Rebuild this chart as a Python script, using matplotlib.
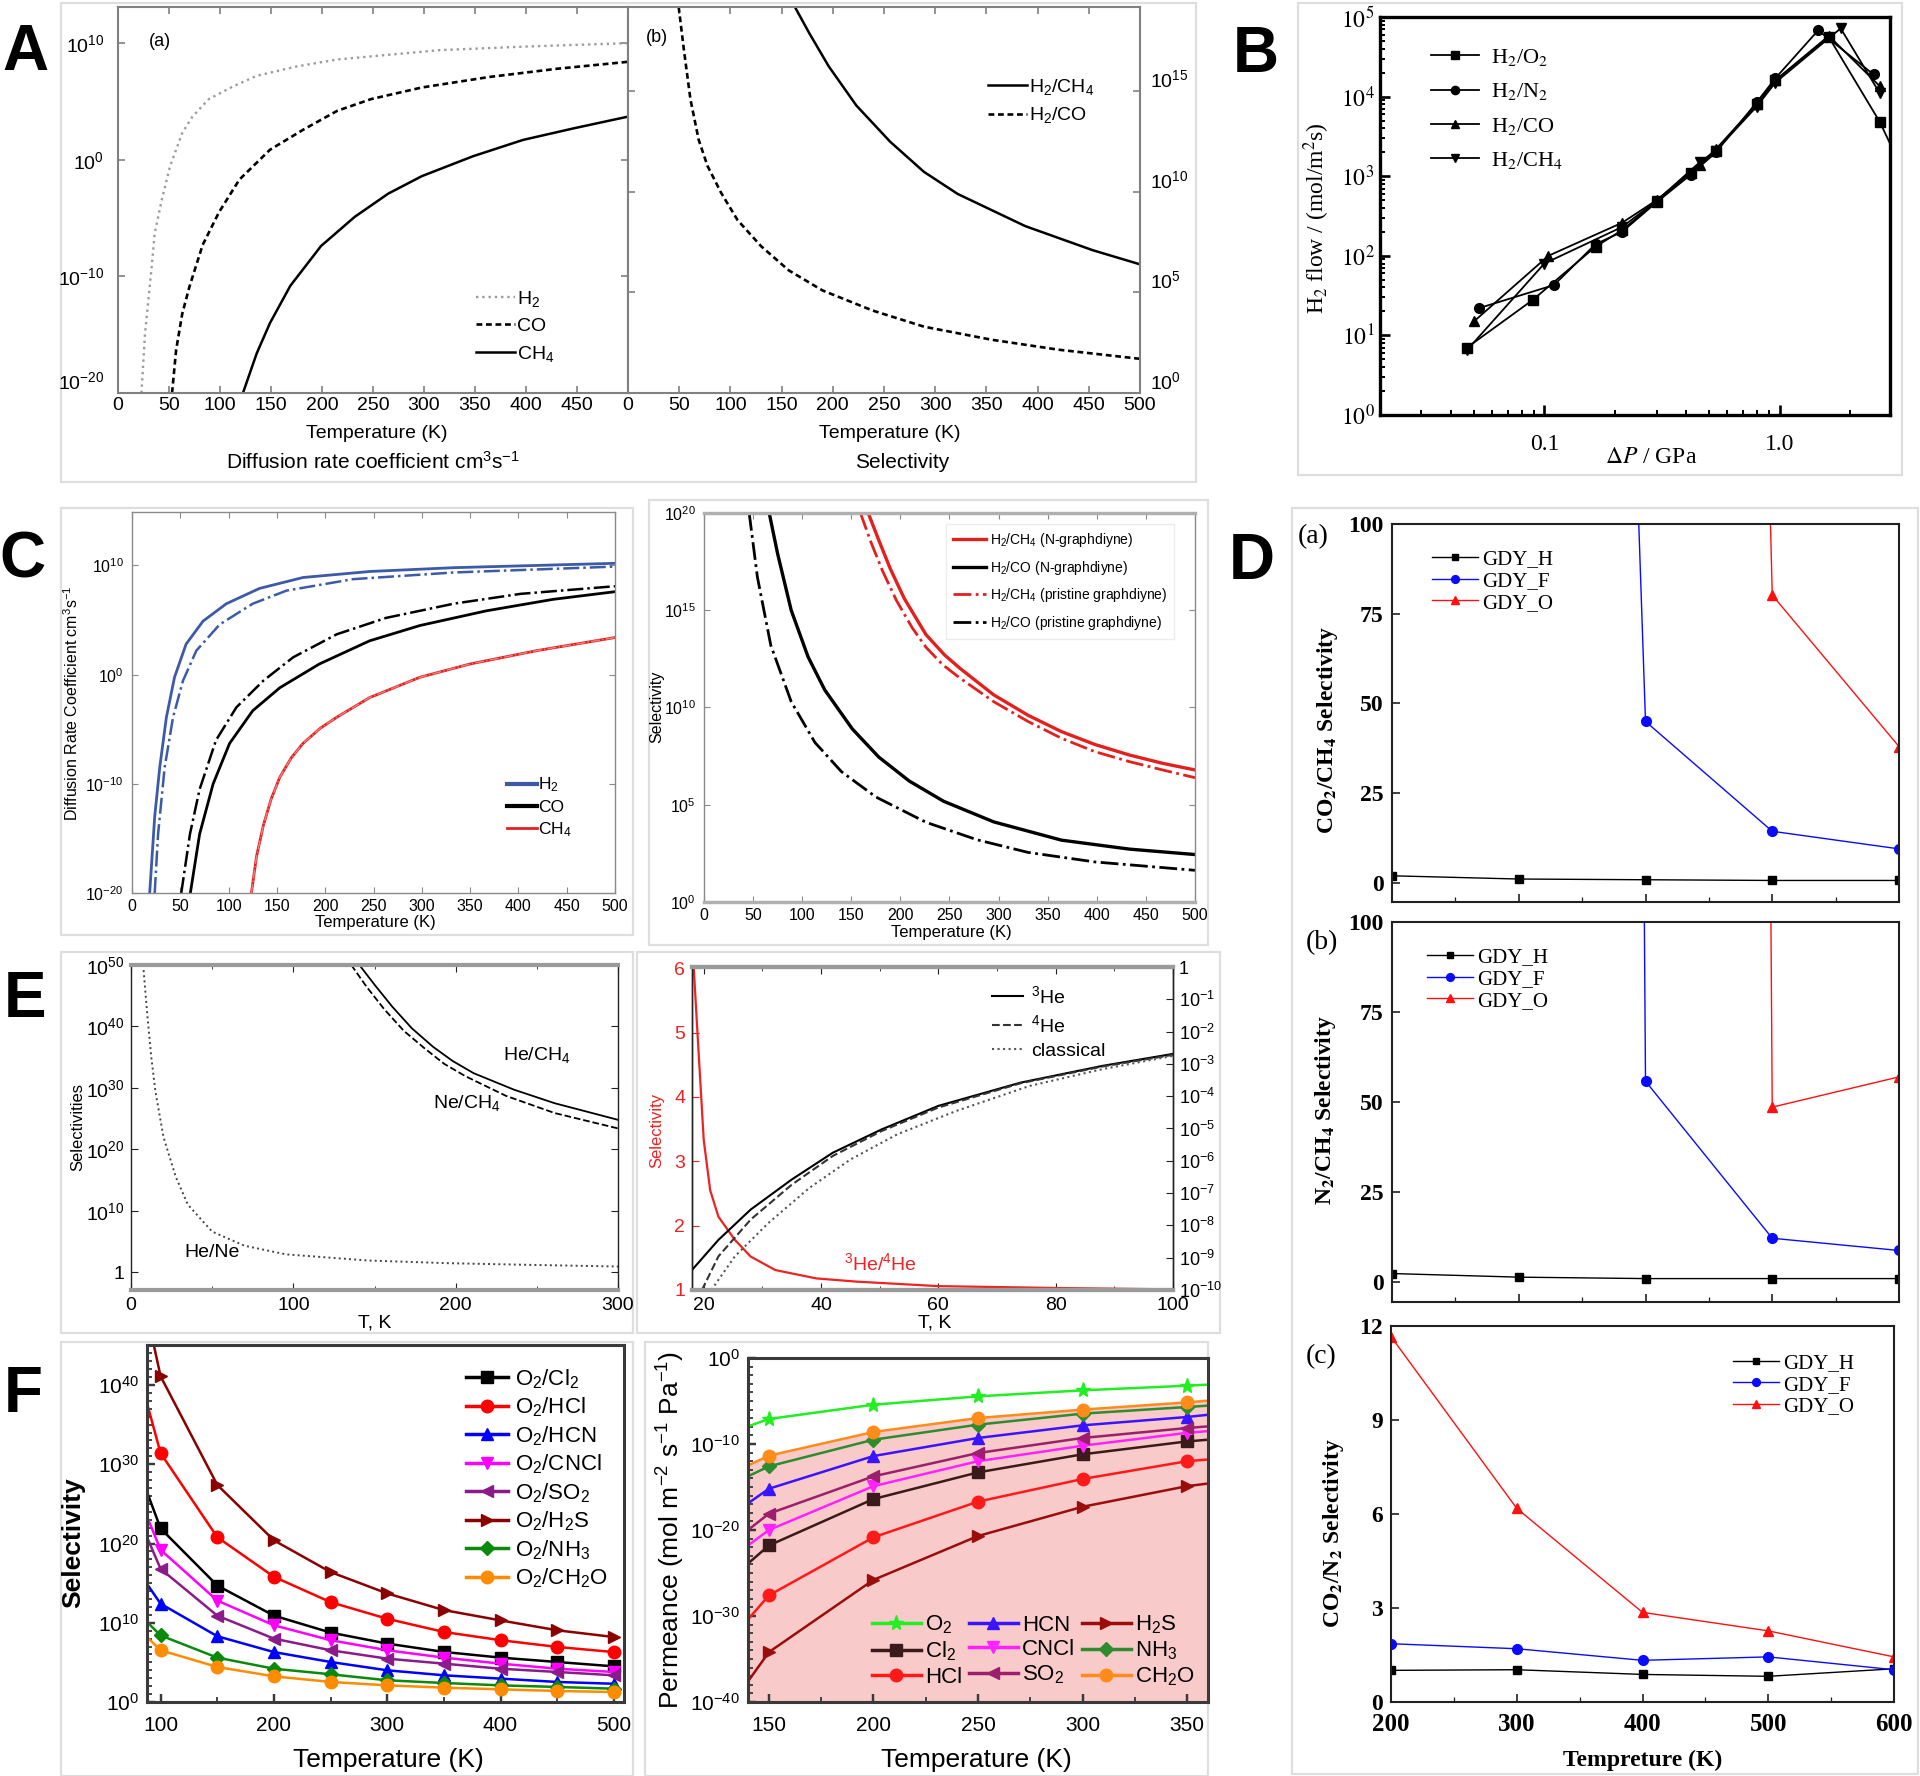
import numpy as np
import matplotlib
matplotlib.use('Agg')
import matplotlib.pyplot as plt
from matplotlib.patches import Rectangle
from matplotlib.lines import Line2D
from matplotlib.ticker import FixedLocator, NullFormatter, NullLocator

plt.rcParams['font.family'] = ['Liberation Sans', 'DejaVu Sans']
plt.rcParams['mathtext.fontset'] = 'custom'
plt.rcParams['mathtext.rm'] = 'Liberation Sans'
plt.rcParams['mathtext.it'] = 'Liberation Sans:italic'
plt.rcParams['mathtext.bf'] = 'Liberation Sans:bold'

SERIF = 'Liberation Serif'
nan = np.nan

# ---------------- DATA ----------------
# Panel A(a): diffusion rate coefficient, log10 values vs temperature (K)
A_T_H2 = [23, 26.5, 33, 36, 43, 51, 63, 73, 89, 113, 136, 175, 215, 265, 315, 397, 500]
A_LOG_H2 = [-20, -14.9, -9.2, -6.3, -3.4, -0.57, 2.3, 3.7, 5.2, 6.3, 7.2, 8.0, 8.6, 9.0, 9.4, 9.7, 10.0]
A_T_CO = [53, 57, 63, 70, 83, 99, 119, 149, 182, 215, 248, 298, 364, 430, 500]
A_LOG_CO = [-20, -16.3, -13.2, -10.9, -7.3, -4.5, -1.7, 0.86, 2.6, 4.2, 5.2, 6.2, 7.1, 7.8, 8.4]
A_T_CH4 = [122.5, 136, 149, 169, 199, 232, 265, 298, 348, 397, 447, 500]
A_LOG_CH4 = [-20, -16.6, -14.0, -10.8, -7.4, -4.9, -2.9, -1.4, 0.3, 1.7, 2.7, 3.7]
# Panel A(b): selectivity (log10)
AB_T_CH4 = [163, 177, 196, 223, 256, 289, 322, 355, 388, 421, 454, 500]
AB_LOG_CH4 = [19.2, 17.9, 16.25, 14.3, 12.5, 11.0, 9.9, 9.1, 8.3, 7.7, 7.1, 6.4]
AB_T_CO = [49.5, 54.5, 61, 69, 77.6, 91, 107, 130, 157, 190, 239, 289, 355, 421, 500]
AB_LOG_CO = [19.2, 17.1, 14.6, 12.6, 11.3, 9.95, 8.6, 7.3, 6.1, 5.1, 4.1, 3.3, 2.65, 2.15, 1.7]

# Panel B: H2 flow vs pressure difference
B_P_O2 = [0.0468, 0.0894, 0.165, 0.214, 0.30, 0.42, 0.537, 0.80, 0.96, 1.62, 2.67, 3.2]
B_F_O2 = [7, 28, 130, 210, 480, 1100, 2100, 8000, 16000, 56000, 4800, 1550]
B_P_N2 = [0.0527, 0.110, 0.165, 0.214, 0.30, 0.42, 0.537, 0.80, 0.96, 1.46, 2.51]
B_F_N2 = [22, 43, 140, 200, 470, 1050, 2000, 8500, 17000, 68000, 19000]
B_P_CO = [0.0502, 0.104, 0.214, 0.30, 0.458, 0.537, 0.80, 0.96, 1.62, 2.67]
B_F_CO = [15, 100, 260, 500, 1400, 2200, 8000, 16000, 58000, 13500]
B_P_CH4 = [0.0468, 0.100, 0.214, 0.30, 0.458, 0.537, 0.80, 0.96, 1.82, 2.67]
B_F_CH4 = [6.5, 80, 230, 490, 1500, 2100, 7500, 15000, 72000, 11000]

# Panel C left: diffusion rate coefficient (log10), N-graphdiyne (N) / pristine (P)
C_T_H2_N = [18.3, 23.5, 28.7, 35.6, 44, 56, 73.5, 97.7, 132, 177, 246, 333, 500]
C_LOG_H2_N = [-20, -13, -8.5, -3.9, -0.24, 2.8, 4.9, 6.5, 7.9, 8.9, 9.45, 9.8, 10.2]
C_T_H2_P = [23.5, 27, 33.8, 42.5, 52.8, 66.6, 90.8, 125, 160, 229, 333, 500]
C_LOG_H2_P = [-20, -14.6, -8.5, -3.9, -0.55, 2.2, 4.6, 6.5, 7.7, 8.75, 9.36, 9.9]
C_T_CO_N = [60.4, 70, 84, 101, 125, 153, 194, 246, 298, 367, 436, 500]
C_LOG_CO_N = [-20, -14.6, -10, -6.3, -3.3, -1.2, 0.98, 3.1, 4.5, 5.85, 6.9, 7.6]
C_T_CO_P = [51, 60, 70, 87, 108, 136, 167, 212, 263, 333, 402, 500]
C_LOG_CO_P = [-20, -14.6, -10.5, -6.0, -3.0, -0.55, 1.6, 3.7, 5.2, 6.5, 7.4, 8.1]
C_T_CH4 = [123.6, 129, 136, 144, 153, 165, 177, 195, 212, 246, 298, 350, 419, 500]
C_LOG_CH4 = [-20, -16.6, -13.8, -11.4, -9.4, -7.6, -6.3, -4.9, -3.9, -2.1, -0.24, 0.98, 2.2, 3.4]
# Panel C right: selectivity (log10)
CR_T_CH4_N = [167.2, 178, 190, 204, 226, 245, 261, 295, 330, 364, 398, 433, 467, 500]
CR_LOG_CH4_N = [20, 18.6, 17.1, 15.6, 13.75, 12.7, 12.0, 10.65, 9.6, 8.76, 8.1, 7.56, 7.13, 6.79]
CR_T_CH4_P = [159.3, 170, 182, 196, 212, 226, 243, 261, 295, 330, 364, 398, 433, 467, 500]
CR_LOG_CH4_P = [20, 18.5, 17.0, 15.5, 14.1, 13.1, 12.2, 11.5, 10.3, 9.28, 8.42, 7.73, 7.22, 6.79, 6.39]
CR_T_CO_N = [66.4, 75, 88.8, 106, 123, 151, 178, 209, 244, 295, 364, 433, 500]
CR_LOG_CO_N = [20, 17.9, 15.0, 12.6, 10.9, 8.9, 7.45, 6.22, 5.18, 4.12, 3.18, 2.72, 2.44]
CR_T_CO_P = [46, 54.4, 68, 88.8, 113, 140, 175, 226, 278, 330, 398, 500]
CR_LOG_CO_P = [20, 16.7, 13.2, 10.3, 8.2, 6.7, 5.4, 4.1, 3.2, 2.55, 2.06, 1.63]

# Panel D: selectivities of GDY membranes
D_T = [200, 300, 400, 500, 600]
DA_H = [2.0, 1.1, 0.9, 0.7, 0.7]
DA_F = [nan, 1080, 45.0, 14.4, 9.5]
DA_O = [nan, nan, 1500, 80.2, 38.0]
DB_H = [2.4, 1.4, 1.0, 1.0, 1.0]
DB_F = [nan, 5000, 55.8, 12.2, 8.8]
DB_O = [nan, nan, 5000, 48.6, 57.0]
DC_H = [1.01, 1.03, 0.88, 0.82, 1.06]
DC_F = [1.86, 1.70, 1.33, 1.44, 1.03]
DC_O = [11.66, 6.18, 2.86, 2.27, 1.44]

# Panel E left: selectivities (log10)
E_T_HENE = [7.5, 10, 12.5, 15, 20, 27.6, 35, 50, 70, 95.5, 146, 196, 246, 300]
E_LOG_HENE = [50, 42, 35, 29.5, 22, 15.5, 11.0, 6.6, 4.3, 2.9, 1.9, 1.46, 1.19, 0.92]
E_T_HECH4 = [140.7, 150, 161, 173, 186, 198, 211, 236, 261, 300]
E_LOG_HECH4 = [50, 46.8, 43.2, 39.7, 36.7, 34.4, 32.4, 29.7, 27.5, 24.8]
E_T_NECH4 = [135.7, 145, 156, 168, 181, 193, 206, 231, 261, 300]
E_LOG_NECH4 = [50, 46.5, 42.8, 39.3, 36.4, 33.9, 31.9, 28.7, 25.9, 23.4]
# Panel E right
ER_T_RATIO = [18.3, 19, 20, 21.1, 22.5, 25.3, 28, 32.2, 39.2, 46.1, 60, 81, 100]
ER_RATIO = [6.0, 4.89, 3.33, 2.55, 2.14, 1.78, 1.52, 1.31, 1.18, 1.13, 1.06, 1.03, 1.01]
ER_T_HE3 = [18, 22.5, 28, 35, 42, 50.3, 60, 74, 88, 100]
ER_LOG_HE3 = [-9.38, -8.45, -7.51, -6.58, -5.75, -5.03, -4.3, -3.58, -3.06, -2.69]
ER_T_HE4 = [19.7, 22.5, 28, 35, 42, 50.3, 60, 74, 88, 100]
ER_LOG_HE4 = [-10, -8.96, -7.82, -6.74, -5.85, -5.08, -4.35, -3.6, -3.08, -2.72]
ER_T_CL = [21.3, 25.3, 31, 38, 45, 53, 63, 75.6, 88, 100]
ER_LOG_CL = [-10, -8.96, -7.93, -6.84, -5.96, -5.18, -4.46, -3.68, -3.16, -2.75]

# Panel F left: O2/X selectivity (log10); first entry is the left axis edge
F_T = [88, 100, 150, 200, 250, 300, 350, 400, 450, 500]
FL_CL2 = [26.5, 21.9, 14.7, 10.9, 8.76, 7.37, 6.32, 5.6, 5.05, 4.5]
FL_HCL = [37.7, 31.4, 20.8, 15.8, 12.6, 10.5, 8.84, 7.8, 6.95, 6.3]
FL_HCN = [14.9, 12.4, 8.3, 6.3, 5.05, 4.0, 3.37, 2.95, 2.53, 2.3]
FL_CNCL = [23.4, 19.2, 12.8, 9.68, 7.8, 6.53, 5.6, 4.84, 4.2, 3.79]
FL_SO2 = [20.8, 16.8, 10.9, 8.0, 6.53, 5.47, 4.84, 4.2, 3.79, 3.37]
FL_H2S = [49, 41.1, 27.4, 20.4, 16.4, 13.7, 11.6, 10.3, 9.05, 8.2]
FL_NH3 = [10.1, 8.4, 5.6, 4.2, 3.5, 2.74, 2.4, 2.1, 1.9, 1.68]
FL_CH2O = [8.2, 6.53, 4.42, 3.24, 2.53, 2.1, 1.81, 1.6, 1.39, 1.26]
# Panel F right: permeance (log10); first/last entries are the axis edges
FR_T = [140, 150, 200, 250, 300, 350, 360]
FR_O2 = [-7.95, -7.09, -5.43, -4.46, -3.76, -3.22, -3.1]
FR_CH2O = [-12.5, -11.36, -8.6, -6.98, -6.0, -5.16, -4.96]
FR_NH3 = [-13.76, -12.6, -9.5, -7.75, -6.47, -5.7, -5.54]
FR_HCN = [-16.9, -15.2, -11.4, -9.3, -7.83, -6.86, -6.6]
FR_SO2 = [-20.0, -18.1, -13.76, -11.05, -9.3, -8.14, -7.95]
FR_CNCL = [-21.8, -20.0, -14.9, -12.0, -10.2, -8.7, -8.5]
FR_CL2 = [-23.9, -21.8, -16.4, -13.3, -11.2, -9.7, -9.5]
FR_HCL = [-30.4, -27.6, -20.85, -16.7, -14.07, -12.0, -11.8]
FR_H2S = [-37.6, -34.2, -25.8, -20.7, -17.3, -14.9, -14.6]

# ---------------- FIGURE ----------------
W, H = 1920, 1776
fig = plt.figure(figsize=(W / 100, H / 100), dpi=100)
fig.patch.set_facecolor('white')


def add_ax(l, t, r, b):
    return fig.add_axes([l / W, 1 - b / H, (r - l) / W, (b - t) / H])


def ftext(x, y, s, **kw):
    kw.setdefault('ha', 'center')
    kw.setdefault('va', 'center')
    return fig.text(x / W, 1 - y / H, s, **kw)


def frame(l, t, r, b, color='#dedede', lw=1.6):
    fig.add_artist(Rectangle((l / W, 1 - b / H), (r - l) / W, (b - t) / H,
                             transform=fig.transFigure, fill=False, ec=color, lw=lw, zorder=-5))


def style_ax(ax, color='k', lw=1.0, size=12, length=5, sides='lrtb', pad=4, family=None, tcolor=None):
    for s in ax.spines.values():
        s.set_color(color)
        s.set_linewidth(lw)
    kw = dict(which='both', direction='in', color=tcolor or color, labelsize=size, pad=pad,
              left='l' in sides, right='r' in sides, top='t' in sides, bottom='b' in sides)
    if family:
        kw['labelfontfamily'] = family
    ax.tick_params(**kw)
    ax.tick_params(which='major', length=length, width=max(lw * 0.8, 0.8))
    ax.tick_params(which='minor', length=length * 0.55, width=max(lw * 0.6, 0.6))


def pw(v):
    return 10.0 ** np.asarray(v, dtype=float)


def math_family(texts, fam):
    for t in texts:
        t.set_math_fontfamily(fam)


def bold(texts):
    for t in texts:
        t.set_fontweight('bold')


DASH = (0, (2.2, 1.4))

# ======================= PANEL A =======================
frame(61, 3, 1196, 482)
axA1 = add_ax(118, 7, 628, 393)
axA1.set_yscale('log')
axA1.plot(A_T_H2, pw(A_LOG_H2), color='#9c9c9c', ls=':', lw=1.7, label='H$_2$')
axA1.plot(A_T_CO, pw(A_LOG_CO), color='k', ls=DASH, lw=1.9, label='CO')
axA1.plot(A_T_CH4, pw(A_LOG_CH4), color='k', ls='-', lw=1.8, label='CH$_4$')
axA1.set_xlim(0, 500)
axA1.set_ylim(1e-20, 10 ** 13.1)
axA1.set_xticks(np.arange(0, 501, 50), [str(v) for v in range(0, 451, 50)] + [''])
axA1.set_yticks([1e-20, 1e-10, 1e0, 1e10], [r'$10^{-20}$', r'$10^{-10}$', r'$10^{0}$', r'$10^{10}$'])
axA1.yaxis.set_minor_locator(NullLocator())
style_ax(axA1, color='#808080', lw=1.5, size=14, length=5, pad=3)
axA1.tick_params(axis='y', pad=10)
axA1.get_yticklabels()[0].set_va('bottom')
axA1.legend(loc='upper left', bbox_to_anchor=(0.68, 0.30), frameon=False, fontsize=14,
            handlelength=2.0, handletextpad=0.1, labelspacing=0.45, borderpad=0.1)

axA2 = add_ax(628, 7, 1140, 393)
axA2.set_yscale('log')
axA2.plot(AB_T_CH4, pw(AB_LOG_CH4), color='k', ls='-', lw=1.8, label='H$_2$/CH$_4$')
axA2.plot(AB_T_CO, pw(AB_LOG_CO), color='k', ls=DASH, lw=1.9, label='H$_2$/CO')
axA2.set_xlim(0, 500)
axA2.set_ylim(1, 10 ** 19.2)
axA2.set_xticks(np.arange(0, 501, 50))
axA2.set_yticks([1, 1e5, 1e10, 1e15], [r'$10^{0}$', r'$10^{5}$', r'$10^{10}$', r'$10^{15}$'])
axA2.yaxis.set_minor_locator(NullLocator())
style_ax(axA2, color='#808080', lw=1.5, size=14, length=5, pad=3)
axA2.tick_params(axis='y', labelleft=False, labelright=True, pad=7)
for lbl in axA2.get_yticklabels():
    lbl.set_va('bottom')
axA2.legend(loc='upper left', bbox_to_anchor=(0.68, 0.85), frameon=False, fontsize=14,
            handlelength=2.0, handletextpad=0.1, labelspacing=0.45, borderpad=0.1)

ftext(160, 42, '(a)', fontsize=13)
ftext(657, 38, '(b)', fontsize=13)
ftext(377, 433, 'Temperature (K)', fontsize=14)
ftext(890, 433, 'Temperature (K)', fontsize=14)
ftext(373, 462, 'Diffusion rate coefficient cm$^3$s$^{-1}$', fontsize=15)
ftext(902, 462, 'Selectivity', fontsize=15)
ftext(25, 53, 'A', fontsize=46, fontweight='bold')

# ======================= PANEL B =======================
frame(1298, 3, 1902, 475)
axB = add_ax(1380, 17, 1890, 415)
axB.set_xscale('log')
axB.set_yscale('log')
for P, Fl, mk, lab in [(B_P_O2, B_F_O2, 's', 'H$_2$/O$_2$'), (B_P_N2, B_F_N2, 'o', 'H$_2$/N$_2$'),
                       (B_P_CO, B_F_CO, '^', 'H$_2$/CO'), (B_P_CH4, B_F_CH4, 'v', 'H$_2$/CH$_4$')]:
    axB.plot(P, Fl, color='k', marker=mk, ms=7, lw=1.3, label=lab)
axB.set_xlim(0.02, 2.95)
axB.set_ylim(1, 1e5)
axB.set_xticks([0.1, 1.0], ['0.1', '1.0'])
axB.xaxis.set_minor_locator(FixedLocator([0.02, 0.03, 0.04, 0.05, 0.06, 0.07, 0.08, 0.09,
                                          0.2, 0.3, 0.4, 0.5, 0.6, 0.7, 0.8, 0.9, 2, 3]))
axB.xaxis.set_minor_formatter(NullFormatter())
axB.set_yticks([10.0 ** k for k in range(6)], [r'$10^{%d}$' % k for k in range(6)])
axB.yaxis.set_minor_locator(FixedLocator([m * 10.0 ** k for k in range(5) for m in range(2, 10)]))
axB.yaxis.set_minor_formatter(NullFormatter())
style_ax(axB, color='k', lw=2.4, size=17, length=7, sides='lb', pad=4, family=SERIF)
axB.tick_params(axis='x', pad=14)
math_family(axB.get_yticklabels(), 'stix')
legB = axB.legend(loc='upper left', bbox_to_anchor=(0.06, 0.975), frameon=False,
                  prop={'family': SERIF, 'size': 16}, handlelength=2.2, handletextpad=0.5,
                  labelspacing=0.6, markerscale=0.85)
math_family(legB.get_texts(), 'stix')
t = ftext(1317, 218, 'H$_2$ flow / (mol/m$^2$s)', fontsize=17, family=SERIF, rotation=90)
t.set_math_fontfamily('stix')
t = ftext(1651, 457, r'$\Delta P$ / GPa', fontsize=17, family=SERIF)
t.set_math_fontfamily('stix')
ftext(1256, 55, 'B', fontsize=46, fontweight='bold')

# ======================= PANEL C =======================
BLUE_C = '#3d5aa9'
RED_C = '#e4201e'
frame(61, 508, 633, 935)
frame(649, 500, 1208, 945)
axC1 = add_ax(132, 512, 615, 893)
axC1.set_yscale('log')
axC1.plot(C_T_H2_P, pw(C_LOG_H2_P), color=BLUE_C, ls='-.', lw=1.8)
axC1.plot(C_T_H2_N, pw(C_LOG_H2_N), color=BLUE_C, ls='-', lw=2.0)
axC1.plot(C_T_CO_P, pw(C_LOG_CO_P), color='k', ls='-.', lw=1.8)
axC1.plot(C_T_CO_N, pw(C_LOG_CO_N), color='k', ls='-', lw=2.0)
axC1.plot(C_T_CH4, pw(C_LOG_CH4), color=RED_C, ls='-', lw=2.0)
axC1.plot(C_T_CH4, pw(C_LOG_CH4), color='#f08080', ls='-.', lw=1.0)
axC1.set_xlim(0, 500)
axC1.set_ylim(1e-20, 10 ** 14.9)
axC1.set_xticks(np.arange(0, 501, 50))
axC1.set_yticks([1e-20, 1e-10, 1e0, 1e10], [r'$10^{-20}$', r'$10^{-10}$', r'$10^{0}$', r'$10^{10}$'])
axC1.yaxis.set_minor_locator(NullLocator())
style_ax(axC1, color='#8a8a8a', lw=1.0, size=11.5, length=4, pad=4)
axC1.tick_params(axis='y', pad=6)
axC1.legend(handles=[Line2D([], [], color=BLUE_C, lw=3), Line2D([], [], color='k', lw=3),
                     Line2D([], [], color=RED_C, lw=2)],
            labels=['H$_2$', 'CO', 'CH$_4$'], loc='upper left', bbox_to_anchor=(0.755, 0.335),
            frameon=False, fontsize=12.5, handlelength=1.7, handletextpad=0.1, labelspacing=0.3,
            borderpad=0.1)
ftext(72, 703, 'Diffusion Rate Coefficient cm$^3$s$^{-1}$', fontsize=11.5, rotation=90)
ftext(375, 922, 'Temperature (K)', fontsize=12)

axC2 = add_ax(704, 513, 1195, 902)
axC2.set_yscale('log')
axC2.plot(CR_T_CH4_N, pw(CR_LOG_CH4_N), color=RED_C, ls='-', lw=2.4, label='H$_2$/CH$_4$ (N-graphdiyne)')
axC2.plot(CR_T_CO_N, pw(CR_LOG_CO_N), color='k', ls='-', lw=2.4, label='H$_2$/CO (N-graphdiyne)')
axC2.plot(CR_T_CH4_P, pw(CR_LOG_CH4_P), color=RED_C, ls='-.', lw=2.0, label='H$_2$/CH$_4$ (pristine graphdiyne)')
axC2.plot(CR_T_CO_P, pw(CR_LOG_CO_P), color='k', ls='-.', lw=2.0, label='H$_2$/CO (pristine graphdiyne)')
axC2.set_xlim(0, 500)
axC2.set_ylim(1, 1e20)
axC2.set_xticks(np.arange(0, 501, 50))
axC2.set_yticks([1, 1e5, 1e10, 1e15, 1e20], [r'$10^{0}$', r'$10^{5}$', r'$10^{10}$', r'$10^{15}$', r'$10^{20}$'])
axC2.yaxis.set_minor_locator(NullLocator())
style_ax(axC2, color='#8a8a8a', lw=1.0, size=11.5, length=4, pad=4)
axC2.spines['top'].set_linewidth(2.5)
axC2.spines['top'].set_color('#b0b0b0')
axC2.spines['bottom'].set_linewidth(2.5)
axC2.spines['bottom'].set_color('#b0b0b0')
axC2.tick_params(axis='y', pad=6)
axC2.legend(loc='upper left', bbox_to_anchor=(0.478, 0.99), frameon=True, fancybox=False,
            edgecolor='#ececec', framealpha=1, fontsize=10, handlelength=2.4, handletextpad=0.3,
            labelspacing=0.7, borderpad=0.5)
ftext(657, 707, 'Selectivity', fontsize=11.5, rotation=90)
ftext(951, 932, 'Temperature (K)', fontsize=12)
ftext(22, 560, 'C', fontsize=46, fontweight='bold')

# ======================= PANEL D =======================
frame(1292, 508, 1918, 1774)
D_COLORS = {'H': 'k', 'F': '#0a0aff', 'O': '#ff1010'}


def d_panel(box, h, f, o, ylim, yticks, xlabels, ylabel, tag, tag_xy, ylabel_xy, leg_anchor, leg_loc):
    ax = add_ax(*box)
    ax.plot(D_T, h, color='k', marker='s', ms=6, lw=1.0, label='GDY_H')
    ax.plot(D_T, f, color=D_COLORS['F'], marker='o', ms=7, lw=1.0, label='GDY_F')
    ax.plot(D_T, o, color=D_COLORS['O'], marker='^', ms=7, lw=1.0, label='GDY_O')
    ax.set_xlim(200, 600)
    ax.set_ylim(*ylim)
    ax.set_xticks(D_T)
    ax.xaxis.set_minor_locator(FixedLocator([250, 350, 450, 550]))
    ax.set_yticks(yticks)
    style_ax(ax, color='#202020', lw=1.5, size=17, length=6, sides='lb', pad=6, family=SERIF)
    if not xlabels:
        ax.tick_params(axis='x', labelbottom=False)
    else:
        ax.tick_params(axis='x', labelsize=18, pad=8)
    bold(ax.get_xticklabels() + ax.get_yticklabels())
    ax.legend(loc=leg_loc, bbox_to_anchor=leg_anchor, frameon=False,
              prop={'family': SERIF, 'size': 15}, handlelength=2.2,
              handletextpad=0.2, labelspacing=0.1, markerscale=0.8, borderpad=0.1)
    ftext(tag_xy[0], tag_xy[1], tag, fontsize=20, family=SERIF)
    t = ftext(ylabel_xy[0], ylabel_xy[1], ylabel, fontsize=17, family=SERIF, fontweight='bold', rotation=90)
    t.set_math_fontfamily('stix')
    return ax


d_panel((1392, 524, 1899, 902), DA_H, DA_F, DA_O, (-5.3, 100), [0, 25, 50, 75, 100], False,
        r'CO$_\mathbf{2}$/CH$_\mathbf{4}$ Selectivity', '(a)', (1313, 537), (1327, 730),
        (0.055, 0.965), 'upper left')
d_panel((1392, 922, 1899, 1302), DB_H, DB_F, DB_O, (-5.5, 100), [0, 25, 50, 75, 100], False,
        r'N$_\mathbf{2}$/CH$_\mathbf{4}$ Selectivity', '(b)', (1322, 943), (1326, 1110),
        (0.045, 0.965), 'upper left')
d_panel((1391, 1326, 1894, 1702), DC_H, DC_F, DC_O, (0, 12), [0, 3, 6, 9, 12], True,
        r'CO$_\mathbf{2}$/N$_\mathbf{2}$ Selectivity', '(c)', (1321, 1357), (1333, 1533),
        (0.945, 0.96), 'upper right')
ftext(1643, 1760, 'Tempreture (K)', fontsize=17, family=SERIF, fontweight='bold')
ftext(1252, 562, 'D', fontsize=46, fontweight='bold')

# ======================= PANEL E =======================
frame(61, 952, 633, 1333)
frame(637, 952, 1220, 1333)
axE1 = add_ax(131, 965, 618, 1290)
axE1.set_yscale('log')
axE1.plot(E_T_HENE, pw(E_LOG_HENE), color='#444444', ls=':', lw=1.4)
axE1.plot(E_T_HECH4, pw(E_LOG_HECH4), color='k', ls='-', lw=1.3)
axE1.plot(E_T_NECH4, pw(E_LOG_NECH4), color='k', ls='--', lw=1.3)
axE1.set_xlim(0, 300)
axE1.set_ylim(10 ** -2.9, 1e50)
axE1.set_xticks([0, 100, 200, 300])
axE1.xaxis.set_minor_locator(FixedLocator([50, 150, 250]))
axE1.set_yticks([10.0 ** k for k in range(0, 51, 10)], ['1'] + [r'$10^{%d}$' % k for k in range(10, 51, 10)])
axE1.yaxis.set_minor_locator(NullLocator())
style_ax(axE1, color='#222222', lw=1.0, size=14, length=5, pad=5)
for s in ('top', 'bottom'):
    axE1.spines[s].set_linewidth(3)
    axE1.spines[s].set_color('#9a9a9a')
ftext(212, 1252, 'He/Ne', fontsize=14)
ftext(537, 1055, 'He/CH$_4$', fontsize=14)
ftext(467, 1103, 'Ne/CH$_4$', fontsize=14)
ftext(78, 1127, 'Selectivities', fontsize=12, rotation=90)
ftext(375, 1323, 'T, K', fontsize=14)

RED_E = '#ee2222'
axE2 = add_ax(692, 967, 1173, 1290)
axE2.plot(ER_T_RATIO, ER_RATIO, color=RED_E, lw=1.6)
axE2.set_xlim(18, 100)
axE2.set_ylim(1, 6.02)
axE2.set_yticks([1, 2, 3, 4, 5, 6])
axE2.set_xticks([20, 40, 60, 80, 100])
axE2.xaxis.set_minor_locator(FixedLocator([30, 50, 70, 90]))
style_ax(axE2, color='#222222', lw=1.0, size=14, length=5, sides='ltb', pad=5)
axE2.tick_params(axis='y', colors=RED_E)
axE2b = axE2.twinx()
axE2b.set_yscale('log')
axE2b.plot(ER_T_HE3, pw(ER_LOG_HE3), color='k', ls='-', lw=1.5, label='$^3$He')
axE2b.plot(ER_T_HE4, pw(ER_LOG_HE4), color='#333333', ls='--', lw=1.5, label='$^4$He')
axE2b.plot(ER_T_CL, pw(ER_LOG_CL), color='#555555', ls=':', lw=1.5, label='classical')
axE2b.set_ylim(1e-10, 1)
axE2b.set_yticks([10.0 ** -k for k in range(0, 11)], ['1'] + [r'$10^{-%d}$' % k for k in range(1, 11)])
axE2b.yaxis.set_minor_locator(NullLocator())
style_ax(axE2b, color='#222222', lw=1.0, size=13, length=5, sides='r', pad=4)
for a in (axE2, axE2b):
    for s in ('top', 'bottom'):
        a.spines[s].set_linewidth(3)
        a.spines[s].set_color('#9a9a9a')
axE2b.legend(loc='upper left', bbox_to_anchor=(0.6, 0.98), frameon=False, fontsize=14,
             handlelength=1.6, handletextpad=0.4, labelspacing=0.35, borderpad=0.1)
ftext(657, 1130, 'Selectivity', fontsize=12, rotation=90, color=RED_E)
ftext(880, 1263, '$^3$He/$^4$He', fontsize=14, color=RED_E)
ftext(935, 1323, 'T, K', fontsize=14)
ftext(25, 1000, 'E', fontsize=46, fontweight='bold')

# ======================= PANEL F =======================
frame(61, 1342, 633, 1776)
frame(645, 1342, 1208, 1776)
FL_SERIES = [
    ('O$_2$/Cl$_2$', FL_CL2, '#000000', 's'),
    ('O$_2$/HCl', FL_HCL, '#ff0000', 'o'),
    ('O$_2$/HCN', FL_HCN, '#0000ff', '^'),
    ('O$_2$/CNCl', FL_CNCL, '#ff00ff', 'v'),
    ('O$_2$/SO$_2$', FL_SO2, '#8b1a8b', '<'),
    ('O$_2$/H$_2$S', FL_H2S, '#8b0000', '>'),
    ('O$_2$/NH$_3$', FL_NH3, '#0a8a0a', 'D'),
    ('O$_2$/CH$_2$O', FL_CH2O, '#ff8c00', 'o'),
]
axF1 = add_ax(147, 1345, 624, 1702)
axF1.set_yscale('log')
handles = []
for lab, vals, col, mk in FL_SERIES:
    y = pw(vals)
    axF1.plot(F_T, y, color=col, lw=1.8)
    ms = 7 if mk == 'D' else 9
    axF1.plot(F_T[1:], y[1:], ls='none', marker=mk, ms=ms, color=col)
    handles.append(Line2D([], [], color=col, lw=2.5, marker=mk, ms=ms))
axF1.set_xlim(88, 509)
axF1.set_ylim(1, 10 ** 45.05)
axF1.set_xticks([100, 200, 300, 400, 500])
axF1.xaxis.set_minor_locator(FixedLocator([150, 250, 350, 450]))
axF1.set_yticks([10.0 ** k for k in range(0, 41, 10)], [r'$10^{%d}$' % k for k in range(0, 41, 10)])
axF1.yaxis.set_minor_locator(FixedLocator([10.0 ** k for k in range(0, 46)]))
axF1.yaxis.set_minor_formatter(NullFormatter())
style_ax(axF1, color='#3a3a3a', lw=2.2, size=15, length=6, sides='lb', pad=6)
axF1.tick_params(axis='x', pad=10)
axF1.legend(handles=handles, labels=[s[0] for s in FL_SERIES], loc='upper left',
            bbox_to_anchor=(0.64, 0.975), frameon=False, fontsize=16, handlelength=1.9,
            handletextpad=0.3, labelspacing=0.22, borderpad=0.1)
ftext(73, 1543, 'Selectivity', fontsize=19, rotation=90, fontweight='bold')
ftext(388, 1760, 'Temperature (K)', fontsize=19)

FR_SERIES = [
    ('O$_2$', FR_O2, '#22ee22', '*'),
    ('Cl$_2$', FR_CL2, '#3a1a1a', 's'),
    ('HCl', FR_HCL, '#ff1a1a', 'o'),
    ('HCN', FR_HCN, '#3a14ff', '^'),
    ('CNCl', FR_CNCL, '#ff22ff', 'v'),
    ('SO$_2$', FR_SO2, '#9c1f6e', '<'),
    ('H$_2$S', FR_H2S, '#9b0d0d', '>'),
    ('NH$_3$', FR_NH3, '#2e8b2e', 'D'),
    ('CH$_2$O', FR_CH2O, '#ff8c1a', 'o'),
]
axF2 = add_ax(748, 1358, 1208, 1702)
axF2.set_yscale('log')
axF2.fill_between(FR_T, pw(FR_CH2O), 1e-40, color='#f9caca', lw=0, zorder=0)
handles = []
for lab, vals, col, mk in FR_SERIES:
    y = pw(vals)
    axF2.plot(FR_T, y, color=col, lw=1.8)
    ms = 7 if mk == 'D' else (11 if mk == '*' else 9)
    axF2.plot(FR_T[1:-1], y[1:-1], ls='none', marker=mk, ms=ms, color=col)
    handles.append(Line2D([], [], color=col, lw=2.5, marker=mk, ms=ms))
axF2.set_xlim(140, 360)
axF2.set_ylim(1e-40, 1)
axF2.set_xticks([150, 200, 250, 300, 350])
axF2.xaxis.set_minor_locator(FixedLocator([175, 225, 275, 325]))
axF2.set_yticks([10.0 ** -k for k in range(0, 41, 10)], ['$10^{0}$'] + [r'$10^{-%d}$' % k for k in range(10, 41, 10)])
axF2.yaxis.set_minor_locator(FixedLocator([10.0 ** -k for k in range(0, 41)]))
axF2.yaxis.set_minor_formatter(NullFormatter())
style_ax(axF2, color='#3a3a3a', lw=2.2, size=15, length=6, sides='lb', pad=6)
axF2.tick_params(axis='x', pad=10)
axF2.legend(handles=handles, labels=[s[0] for s in FR_SERIES], ncol=3, loc='upper left',
            bbox_to_anchor=(0.24, 0.295), frameon=False, fontsize=16, handlelength=2.2,
            handletextpad=0.2, labelspacing=0.15, columnspacing=0.3, borderpad=0.1)
ftext(671, 1530, 'Permeance (mol m$^{-2}$ s$^{-1}$ Pa$^{-1}$)', fontsize=19, rotation=90)
ftext(976, 1760, 'Temperature (K)', fontsize=19)
ftext(23, 1395, 'F', fontsize=46, fontweight='bold')

fig.savefig('out.png', dpi=100, facecolor='white')
